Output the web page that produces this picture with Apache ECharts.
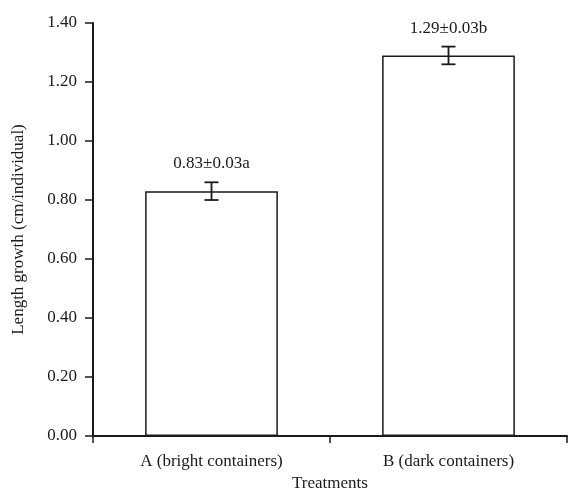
<!DOCTYPE html>
<html>
<head>
<meta charset="utf-8">
<script src="https://cdn.jsdelivr.net/npm/echarts@6/dist/echarts.min.js"></script>
<style>
  html, body { margin: 0; padding: 0; background: #fff; }
  #chart { width: 568px; height: 497px; }
</style>
</head>
<body>
<div id="chart"></div>
<script>
// Length growth per treatment, mean ± SE with significance letters
const categories = ['A (bright containers)', 'B (dark containers)'];
const means = [0.83, 1.29];
const errors = [0.03, 0.03];
const letters = ['a', 'b'];
const yTicks = [0, 0.2, 0.4, 0.6, 0.8, 1.0, 1.2, 1.4];

const FONT = '"Liberation Serif", "DejaVu Serif", serif';
const INK = '#1a1a1a';
const FS = 17;

const chart = echarts.init(document.getElementById('chart'), null, { renderer: 'canvas' });

const errData = means.map((m, i) => [i, m, errors[i]]);

chart.setOption({
  animation: false,
  backgroundColor: '#fff',
  grid: { left: 93, right: 1, top: 23, bottom: 61, containLabel: false, outerBoundsMode: 'none' },
  xAxis: {
    type: 'category',
    data: categories,
    boundaryGap: true,
    name: 'Treatments',
    nameLocation: 'middle',
    nameGap: 37,
    nameTextStyle: { fontFamily: FONT, fontSize: FS, color: INK },
    axisLine: { lineStyle: { color: INK, width: 2 } },
    axisTick: { show: true, alignWithLabel: false, length: 7, lineStyle: { color: INK, width: 1.5 } },
    axisLabel: { fontFamily: FONT, fontSize: FS, color: INK, margin: 17 }
  },
  yAxis: {
    type: 'value',
    min: yTicks[0],
    max: yTicks[yTicks.length - 1],
    interval: yTicks[1] - yTicks[0],
    name: 'Length growth (cm/individual)',
    nameLocation: 'middle',
    nameGap: 66,
    nameTextStyle: { fontFamily: FONT, fontSize: FS, color: INK },
    axisLine: { show: true, lineStyle: { color: INK, width: 2 } },
    axisTick: { show: true, length: 8, lineStyle: { color: INK, width: 1.5 } },
    splitLine: { show: false },
    axisLabel: {
      fontFamily: FONT, fontSize: FS, color: INK, margin: 16,
      formatter: v => v.toFixed(2)
    }
  },
  series: [
    {
      type: 'bar',
      data: means,
      barWidth: '56%',
      itemStyle: { color: '#fff', borderColor: INK, borderWidth: 1.5 },
      z: 2
    },
    {
      type: 'custom',
      data: errData,
      z: 3,
      renderItem: function (params, api) {
        const i = api.value(0);
        const m = api.value(1);
        const e = api.value(2);
        const top = api.coord([i, m + e]);
        const bot = api.coord([i, m - e]);
        const cap = 7;
        const style = { stroke: INK, lineWidth: 1.8 };
        return {
          type: 'group',
          children: [
            { type: 'line', shape: { x1: top[0], y1: top[1], x2: bot[0], y2: bot[1] }, style },
            { type: 'line', shape: { x1: top[0] - cap, y1: top[1], x2: top[0] + cap, y2: top[1] }, style },
            { type: 'line', shape: { x1: bot[0] - cap, y1: bot[1], x2: bot[0] + cap, y2: bot[1] }, style },
            {
              type: 'text',
              style: {
                x: top[0], y: top[1] - 10,
                text: m.toFixed(2) + '±' + e.toFixed(2) + letters[i],
                fontFamily: FONT, fontSize: FS, fill: INK,
                align: 'center', verticalAlign: 'bottom'
              }
            }
          ]
        };
      }
    }
  ]
});
</script>
</body>
</html>
